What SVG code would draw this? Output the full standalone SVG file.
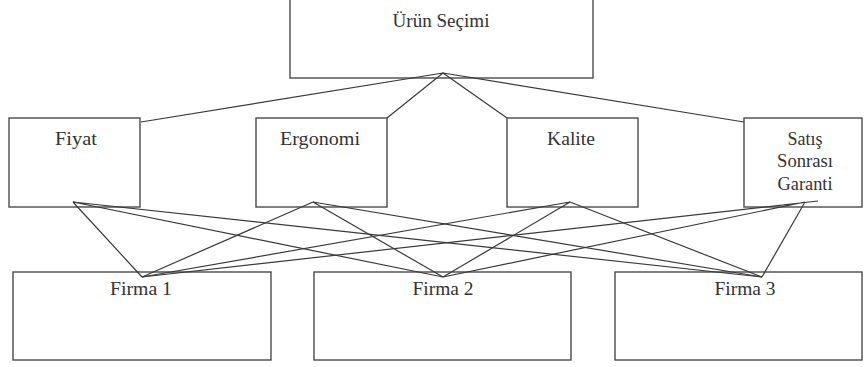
<svg xmlns="http://www.w3.org/2000/svg" width="868" height="367" viewBox="0 0 868 367">
<style>
.box{fill:#fff;stroke:#4a4a4a;stroke-width:1.4}
.t{font-family:"Liberation Serif","Times New Roman",serif;font-size:18px;fill:#333;text-anchor:middle}
.c{stroke:#3a3a3a;stroke-width:1.2;fill:none}
</style>
<rect width="868" height="367" fill="#fff"/>
<g id="urun"><rect class="box" x="290" y="-1" width="303" height="79"/><text class="t" x="441" y="27" textLength="97" lengthAdjust="spacingAndGlyphs">Ürün Seçimi</text></g>
<g id="fiyat"><rect class="box" x="9" y="118" width="131" height="89"/><text class="t" x="76" y="145" textLength="42" lengthAdjust="spacingAndGlyphs">Fiyat</text></g>
<g id="ergonomi"><rect class="box" x="256" y="118" width="131" height="89"/><text class="t" x="320" y="145" textLength="80" lengthAdjust="spacingAndGlyphs">Ergonomi</text></g>
<g id="kalite"><rect class="box" x="507" y="118" width="131" height="89"/><text class="t" x="571" y="145" textLength="48" lengthAdjust="spacingAndGlyphs">Kalite</text></g>
<g id="satis"><rect class="box" x="744" y="118" width="118" height="89"/><text class="t" x="805" y="145" textLength="35" lengthAdjust="spacingAndGlyphs">Satış</text><text class="t" x="805" y="167" textLength="56" lengthAdjust="spacingAndGlyphs">Sonrası</text><text class="t" x="805" y="190" textLength="55" lengthAdjust="spacingAndGlyphs">Garanti</text></g>
<g id="firma1"><rect class="box" x="13" y="272" width="258" height="88"/><text class="t" x="141" y="295" textLength="62" lengthAdjust="spacingAndGlyphs">Firma 1</text></g>
<g id="firma2"><rect class="box" x="314" y="272" width="257" height="88"/><text class="t" x="443" y="295" textLength="61" lengthAdjust="spacingAndGlyphs">Firma 2</text></g>
<g id="firma3"><rect class="box" x="615" y="272" width="247" height="88"/><text class="t" x="745" y="295" textLength="61" lengthAdjust="spacingAndGlyphs">Firma 3</text></g>
<g id="connectors">
<path class="c" d="M443 73L141 122M443 73L387 118M443 73L507 118M443 73L744 122"/>
<path class="c" d="M73 202L142 277M73 202L443 277M73 202L762 277"/>
<path class="c" d="M313 202L142 277M313 202L443 277M313 202L762 277"/>
<path class="c" d="M570 202L142 277M570 202L443 277M570 202L762 277"/>
<path class="c" d="M818 201L142 277M805 202L443 277M805 202L762 277"/>
</g>
</svg>
